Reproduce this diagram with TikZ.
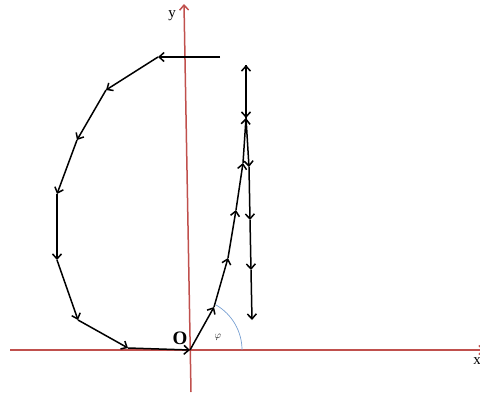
\documentclass[tikz,border=0pt]{standalone}
\usepackage{fontspec}
\setmainfont{Liberation Serif}
\usetikzlibrary{arrows.meta}
\begin{document}
\begin{tikzpicture}[x=1pt,y=-1pt,
  axis/.style={draw={rgb,255:red,192;green,80;blue,77},line width=1.5pt},
  seg/.style={draw=black,line width=1.5pt,-{Straight Barb[length=5pt,width=9pt]}},
  lbl/.style={inner sep=0pt,font=\fontsize{15}{15}\selectfont}]
\useasboundingbox (0,0) rectangle (480,392);
% axes
\coordinate (xs) at (10,350);
\coordinate (xe) at (485,350);
\coordinate (ys) at (191,392);
\coordinate (ye) at (184,4);
\coordinate (O) at (190,350);
\draw[axis,-{Straight Barb[length=5pt,width=9pt]}] (xs) -- (xe);
\draw[axis,-{Straight Barb[length=5pt,width=9pt]}] (ys) -- (ye);
\node[lbl] (ylab) at (172,16) {y};
\node[lbl] (xlab) at (477,361) {x};
\node[inner sep=0pt,font=\fontsize{19}{19}\selectfont\bfseries] (olab) at (180,338) {O};
% angle
\draw[color={rgb,255:red,120;green,160;blue,210},line width=0.7pt] (242,350) arc[start angle=0,end angle=-60,radius=52];
\node[inner sep=0pt,font=\fontsize{10}{10}\selectfont] (phi) at (218,337) {$\varphi$};
% left path
\coordinate (L0) at (220,57);
\coordinate (L1) at (158,57);
\coordinate (L2) at (106,90);
\coordinate (L3) at (77,140);
\coordinate (L4) at (57,194);
\coordinate (L5) at (57,260);
\coordinate (L6) at (78,320);
\coordinate (L7) at (128,348);
\draw[seg] (L0) -- (L1);
\draw[seg] (L1) -- (L2);
\draw[seg] (L2) -- (L3);
\draw[seg] (L3) -- (L4);
\draw[seg] (L4) -- (L5);
\draw[seg] (L5) -- (L6);
\draw[seg] (L6) -- (L7);
\draw[seg] (L7) -- (O);
% right path
\coordinate (R1) at (214,307);
\coordinate (R2) at (228,258);
\coordinate (R3) at (236,210);
\coordinate (R4) at (243,163);
\coordinate (X) at (246,118);
\coordinate (T) at (246,65);
\coordinate (D1) at (249,167);
\coordinate (D2) at (250,220);
\coordinate (D3) at (251,270);
\coordinate (D4) at (252,320);
\draw[seg] (O) -- (R1);
\draw[seg] (R1) -- (R2);
\draw[seg] (R2) -- (R3);
\draw[seg] (R3) -- (R4);
\draw[seg] (R4) -- (X);
\draw[seg] (X) -- (T);
\draw[seg] (T) -- (X);
\draw[seg] (X) -- (D1);
\draw[seg] (D1) -- (D2);
\draw[seg] (D2) -- (D3);
\draw[seg] (D3) -- (D4);
\end{tikzpicture}
\end{document}
